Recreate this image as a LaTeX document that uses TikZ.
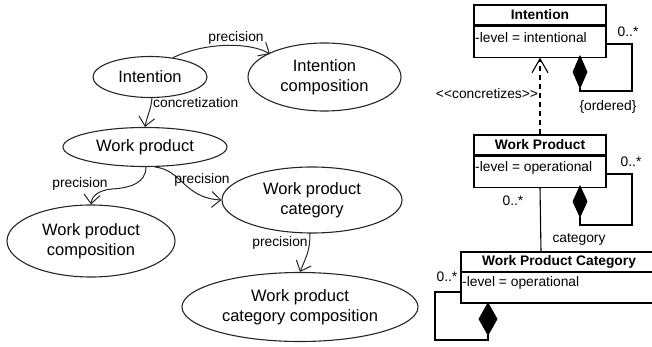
\documentclass[tikz,border=0pt]{standalone}
\usepackage{fontspec}
\setmainfont{Liberation Sans}
\usetikzlibrary{shapes.geometric,arrows.meta}
\begin{document}
\begin{tikzpicture}[x=1pt,y=-1pt,
  concept/.style={ellipse,draw=black!85,line width=1.1pt,inner sep=0pt,align=center,
    font=\fontsize{16.5}{20}\selectfont},
  lbl/.style={inner sep=0pt,font=\fontsize{13.8}{16}\selectfont},
  rel/.style={line width=1pt,draw=black!85,-{Straight Barb[length=9pt,width=16pt,line width=1pt]}},
  box/.style={draw,line width=1.1pt,inner sep=0pt},
  ttl/.style={inner sep=0pt,font=\bfseries\fontsize{13.8}{16}\selectfont},
  attr/.style={inner sep=0pt,anchor=west,font=\fontsize{13.8}{16}\selectfont},
  conn/.style={line width=1.1pt},
  comp/.style={fill=black,draw=black,line width=0.8pt}]
\useasboundingbox (0,0) rectangle (652,347);

% ---- concept map (left)
\node[concept,minimum width=114,minimum height=41] (int) at (150,77) {Intention};
\node[concept,minimum width=153,minimum height=68] (intc) at (324.5,77) {Intention\\composition};
\node[concept,minimum width=164,minimum height=39] (wp) at (145,147) {Work product};
\node[concept,minimum width=168,minimum height=72] (wpcomp) at (91,241) {Work product\\composition};
\node[concept,minimum width=180,minimum height=66] (wpcat) at (312,200) {Work product\\category};
\node[concept,minimum width=236,minimum height=69] (wpcc) at (300,307) {Work product\\category composition};

\coordinate (p1s) at (int.40);
\coordinate (p1e) at (270,54);
\draw[rel] (p1s) .. controls (205,42) and (250,42) .. (p1e);
\node[lbl] (l1) at (236,38) {precision};

\draw[rel] (152,98) .. controls (151,110) and (147,116) .. (wp.north);
\node[lbl,anchor=west] (l2) at (153,103) {concretization};

\coordinate (p3s) at (146,167);
\draw[rel] (p3s) .. controls (146,183) and (130,188) .. (112,189)
  .. controls (100,190) and (92,195) .. (wpcomp.north);
\node[lbl] (l3) at (80,184) {precision};

\coordinate (p4s) at (155,167);
\draw[rel] (p4s) .. controls (182,170) and (184,198) .. (wpcat.west);
\node[lbl] (l4) at (202,180) {precision};

\draw[rel] (310,233) .. controls (310,250) and (307,255) .. (wpcc.north);
\node[lbl] (l5) at (280,243) {precision};

% ---- class diagram (right)
\node[box,minimum width=132,minimum height=20] (iT) at (540,15) {};
\node[box,minimum width=132,minimum height=31,anchor=north] (iA) at (iT.south) {};
\node[ttl] at (iT.center) {Intention};
\node[attr] (iAt) at (475,38) {-level = intentional};

\node[box,minimum width=132,minimum height=20] (wT) at (540,145) {};
\node[box,minimum width=132,minimum height=31,anchor=north] (wA) at (wT.south) {};
\node[ttl] at (wT.center) {Work Product};
\node[attr] (wAt) at (475,168) {-level = operational};

% Work Product Category: runs past the right margin, so its right side is not drawn
\coordinate (cTL) at (461,252);
\coordinate (cML) at (461,272);
\coordinate (cBL) at (461,303);
\coordinate (cTop) at (541,252);
\draw[conn] (670,252) -- (cTL) -- (cBL) -- (670,303);
\draw[conn] (cML) -- (670,272);
\node[ttl] (cTt) at (559,262) {Work Product Category};
\node[attr] (cAt) at (462,283) {-level = operational};

% realisation: Work Product concretizes Intention
\draw[conn,dash pattern=on 5pt off 4pt,
  -{Straight Barb[length=14pt,width=16pt,line width=1.1pt]}] (wT.north) -- (iA.south);
\node[lbl] (lc) at (487,94) {<\kern0pt<concretizes>\kern0pt>};

% association Work Product -- Work Product Category
\draw[conn] (wA.south) -- (cTop);
\node[lbl] (m1) at (513,201) {0..*};
\node[lbl] (rc) at (579,239) {category};

% composition self-loops
\coordinate (iD) at (580,56);
\fill[comp] (iD) -- ++(7,16) -- ++(-7,16) -- ++(-7,-16) -- cycle;
\draw[conn] (580,88) -- (580,91) -- (632,91) -- (632,44) -- (iA.east |- 0,44);
\node[lbl] (m2) at (628,32) {0..*};
\node[lbl] (ord) at (608,107) {\{ordered\}};

\coordinate (wD) at (580,186);
\fill[comp] (wD) -- ++(7,15.5) -- ++(-7,15.5) -- ++(-7,-15.5) -- cycle;
\draw[conn] (580,217) -- (580,225) -- (632,225) -- (632,174) -- (wA.east |- 0,174);
\node[lbl] (m3) at (631,162) {0..*};

\coordinate (cD) at (488,303);
\fill[comp] (cD) -- ++(9,16) -- ++(-9,16) -- ++(-9,-16) -- cycle;
\draw[conn] (488,335) -- (488,340) -- (435,340) -- (435,292) -- (461,292);
\node[lbl] (m4) at (447,277) {0..*};
\end{tikzpicture}
\end{document}
